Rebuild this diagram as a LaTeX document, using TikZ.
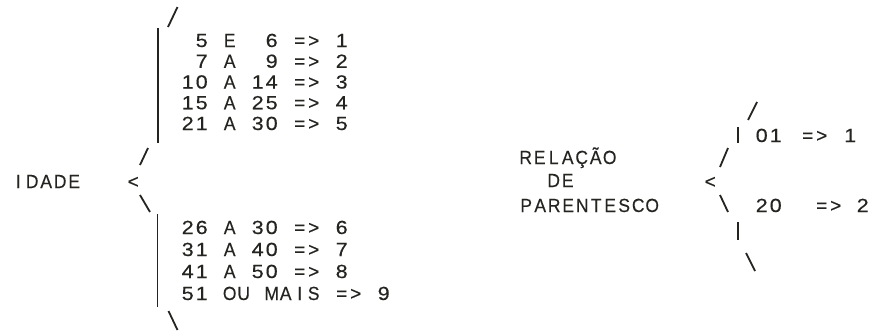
\documentclass[tikz,border=0pt]{standalone}
\usepackage{graphicx}
\usepackage{fontspec}
\setmainfont{Liberation Sans}[FakeBold=0.3]
\definecolor{ink}{RGB}{36,36,32}
\ExplSyntaxOn
\dim_new:N \l_monogrid_pitch_dim
\dim_set:Nn \l_monogrid_pitch_dim {14pt}
% "_" stands for one empty cell of the grid
\cs_new_protected:Npn \monogrid_cell:n #1
  {
    \str_if_in:nnTF {0123456789} {#1}
      { \makebox[\l_monogrid_pitch_dim][c]{\scalebox{1.13}[1]{#1}} }
      {
        \str_if_in:nnTF {ABCDEFGHIJKLMNOPQRSTUVWXYZÇÃ} {#1}
          { \makebox[\l_monogrid_pitch_dim][c]{\scalebox{0.92}[1]{#1}} }
          { \makebox[\l_monogrid_pitch_dim][c]{#1} }
      }
  }
\NewDocumentCommand\monogrid{m}
  {
    \str_map_inline:nn {#1}
      {
        \str_if_eq:nnTF {##1} {_}
          { \hspace*{\l_monogrid_pitch_dim} }
          { \monogrid_cell:n {##1} }
      }
  }
\ExplSyntaxOff
\begin{document}
\begin{tikzpicture}[x=1pt,y=-1pt,
  txt/.style={inner sep=0pt, anchor=base west, font=\fontsize{19}{20}\selectfont, text=ink},
  stroke/.style={draw=ink, line width=1.8pt}]
\useasboundingbox[fill=white] (0,0) rectangle (875,330);

% ---------- IDADE ----------
\node[txt] (idade) at (11,188) {\monogrid{IDADE}};
\node[txt] (lt1) at (126,188) {\monogrid{<}};

\node[txt] (r1) at (180.5,47)    {\monogrid{_5_E__6_=>_1}};
\node[txt] (r2) at (180.5,67.75) {\monogrid{_7_A__9_=>_2}};
\node[txt] (r3) at (180.5,88.5)  {\monogrid{10_A_14_=>_3}};
\node[txt] (r4) at (180.5,109.25){\monogrid{15_A_25_=>_4}};
\node[txt] (r5) at (180.5,130)   {\monogrid{21_A_30_=>_5}};
\node[txt] (r6) at (180.5,234)   {\monogrid{26_A_30_=>_6}};
\node[txt] (r7) at (180.5,256)   {\monogrid{31_A_40_=>_7}};
\node[txt] (r8) at (180.5,278)   {\monogrid{41_A_50_=>_8}};
\node[txt] (r9) at (180.5,300)   {\monogrid{51_OU_MAIS_=>_9}};

% brace strokes (left)
\draw[stroke] (168,27) -- (177.5,7);
\draw[stroke] (158,28) -- (158,143);
\draw[stroke] (140,165) -- (148,148);
\draw[stroke] (140,195) -- (150,212);
\draw[stroke] (157.5,214) -- (157.5,307);
\draw[stroke] (168.5,311) -- (177.5,330);

% ---------- RELACAO DE PARENTESCO ----------
\node[txt] (rel) at (518.5,164) {\monogrid{RELAÇÃO}};
\node[txt] (de)  at (518.5,187) {\monogrid{__DE}};
\node[txt] (par) at (519,212)   {\monogrid{PARENTESCO}};
\node[txt] (lt2) at (703,188)   {\monogrid{<}};

\node[txt] (o1)  at (754.5,142) {\monogrid{01}};
\node[txt] (o1e) at (800.5,142) {\monogrid{=>}};
\node[txt] (o1r) at (843,142)   {\monogrid{1}};
\node[txt] (o2)  at (754.5,212) {\monogrid{20}};
\node[txt] (o2e) at (814.5,212) {\monogrid{=>}};
\node[txt] (o2r) at (855.5,212) {\monogrid{2}};

% brace strokes (right)
\draw[stroke] (748,120) -- (757,102);
\draw[stroke] (738,127) -- (738,143);
\draw[stroke] (720,167) -- (728,148);
\draw[stroke] (720,195) -- (728,212);
\draw[stroke] (738,222) -- (738,240);
\draw[stroke] (746,253) -- (755,271);
\end{tikzpicture}
\end{document}
